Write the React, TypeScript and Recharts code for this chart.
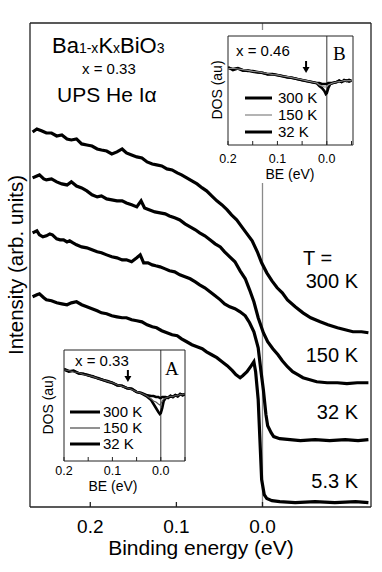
import React from 'react';
import { LineChart, Line, XAxis, YAxis, ReferenceLine, ReferenceDot } from 'recharts';

const FONT = '"Liberation Sans", Arial, Helvetica, sans-serif';
const SERIF = '"Liberation Serif", "Times New Roman", serif';

// ---------- main panel data (binding energy in eV, intensity in arb. units) ----------
const be300 = [0.267,0.262,0.256,0.251,0.245,0.239,0.233,0.227,0.222,0.216,0.210,0.204,0.198,0.192,0.187,0.181,0.175,0.169,0.163,0.158,0.152,0.146,0.140,0.134,0.128,0.123,0.117,0.111,0.105,0.099,0.094,0.088,0.082,0.076,0.070,0.065,0.059,0.053,0.047,0.041,0.036,0.030,0.024,0.018,0.012,0.006,0.001,-0.005,-0.011,-0.017,-0.023,-0.029,-0.038,-0.047,-0.056,-0.067,-0.076,-0.087,-0.096,-0.105,-0.115,-0.123];
const int300 = [3.263,3.289,3.272,3.254,3.254,3.228,3.237,3.202,3.193,3.202,3.158,3.149,3.140,3.114,3.105,3.096,3.070,3.088,3.114,3.079,3.061,3.044,3.035,3.000,2.982,2.974,2.965,2.939,2.930,2.904,2.886,2.860,2.833,2.807,2.772,2.746,2.702,2.658,2.623,2.579,2.535,2.491,2.430,2.368,2.307,2.211,2.114,2.026,1.956,1.895,1.851,1.789,1.728,1.675,1.632,1.596,1.570,1.544,1.526,1.509,1.509,1.500];

const be150 = [0.267,0.262,0.259,0.254,0.251,0.245,0.239,0.233,0.227,0.222,0.216,0.210,0.204,0.198,0.192,0.187,0.181,0.175,0.169,0.163,0.158,0.152,0.146,0.141,0.137,0.131,0.125,0.119,0.113,0.108,0.102,0.096,0.090,0.084,0.078,0.073,0.067,0.061,0.055,0.049,0.044,0.038,0.032,0.026,0.020,0.015,0.010,0.005,-0.001,-0.006,-0.012,-0.018,-0.023,-0.029,-0.035,-0.041,-0.047,-0.055,-0.063,-0.075,-0.087,-0.098,-0.110,-0.123];
const int150 = [2.860,2.877,2.886,2.851,2.842,2.851,2.825,2.807,2.798,2.825,2.789,2.772,2.746,2.711,2.693,2.702,2.675,2.667,2.658,2.658,2.640,2.623,2.605,2.658,2.596,2.579,2.561,2.553,2.544,2.526,2.509,2.491,2.456,2.430,2.404,2.377,2.351,2.316,2.281,2.254,2.211,2.167,2.123,2.044,1.974,1.877,1.772,1.632,1.500,1.421,1.360,1.307,1.254,1.202,1.158,1.132,1.105,1.088,1.070,1.061,1.061,1.053,1.061,1.061];

const be32 = [0.267,0.262,0.259,0.255,0.251,0.247,0.244,0.239,0.235,0.231,0.227,0.224,0.220,0.216,0.210,0.204,0.198,0.192,0.187,0.181,0.175,0.169,0.163,0.158,0.152,0.146,0.142,0.138,0.133,0.128,0.124,0.119,0.113,0.108,0.102,0.096,0.090,0.084,0.078,0.073,0.067,0.061,0.055,0.049,0.044,0.038,0.032,0.026,0.020,0.015,0.010,0.005,0.002,-0.001,-0.004,-0.006,-0.010,-0.013,-0.020,-0.032,-0.044,-0.061,-0.078,-0.096,-0.111,-0.123];
const int32 = [2.377,2.395,2.360,2.342,2.351,2.368,2.360,2.325,2.316,2.316,2.298,2.307,2.289,2.272,2.254,2.246,2.228,2.211,2.202,2.184,2.167,2.158,2.140,2.140,2.123,2.158,2.184,2.114,2.114,2.096,2.088,2.079,2.061,2.044,2.035,2.009,1.991,1.974,1.947,1.921,1.895,1.860,1.825,1.789,1.754,1.728,1.711,1.684,1.649,1.588,1.509,1.368,1.175,1.000,0.781,0.684,0.623,0.588,0.570,0.561,0.553,0.561,0.553,0.561,0.553,0.561];

const be53 = [0.267,0.262,0.259,0.254,0.251,0.245,0.239,0.233,0.227,0.222,0.216,0.210,0.204,0.198,0.192,0.187,0.181,0.175,0.169,0.163,0.158,0.152,0.146,0.140,0.134,0.128,0.123,0.117,0.111,0.105,0.099,0.094,0.088,0.082,0.076,0.070,0.065,0.059,0.053,0.047,0.041,0.035,0.031,0.026,0.023,0.018,0.013,0.010,0.008,0.005,0.003,0.001,-0.002,-0.005,-0.011,-0.020,-0.038,-0.061,-0.084,-0.108,-0.123];
const int53 = [1.816,1.833,1.842,1.807,1.789,1.781,1.763,1.754,1.746,1.763,1.772,1.746,1.728,1.711,1.693,1.675,1.667,1.649,1.640,1.632,1.632,1.614,1.605,1.596,1.570,1.553,1.544,1.518,1.500,1.482,1.474,1.447,1.421,1.395,1.377,1.360,1.333,1.307,1.281,1.246,1.211,1.167,1.132,1.105,1.123,1.158,1.211,1.246,1.158,0.912,0.561,0.211,0.079,0.044,0.026,0.018,0.009,0.018,0.009,0.018,0.009];

const mainTicksX = [0.2, 0.1, 0];
const mainTopTicksX = [0.1, 0];
const mainTicksY = [0, 1, 2, 3, 4];
const tempLabels = ['300 K', '150 K', '32 K', '5.3 K'];

// ---------- inset B (x = 0.46) ----------
const beB = [0.2,0.19,0.18,0.17,0.16,0.15,0.14,0.13,0.12,0.11,0.1,0.09,0.08,0.07,0.06,0.05,0.04,0.03,0.02,0.015,0.01,0.005,0.002,0,-0.003,-0.007,-0.012,-0.02,-0.025,-0.03,-0.035,-0.04,-0.045,-0.05];
const dosB300 = [2.057,2.029,2.057,2.0,1.971,1.971,1.943,1.914,1.886,1.886,1.857,1.829,1.8,1.771,1.743,1.714,1.686,1.657,1.629,1.629,1.6,1.6,1.6,1.6,1.629,1.629,1.629,1.657,1.686,1.657,1.714,1.686,1.714,1.686];
const dosB150 = [2.04,2.05,2.03,2.01,1.99,1.96,1.95,1.92,1.9,1.87,1.86,1.83,1.81,1.78,1.75,1.72,1.69,1.66,1.63,1.571,1.543,1.514,1.514,1.543,1.571,1.6,1.629,1.657,1.67,1.68,1.7,1.69,1.7,1.69];
const dosB32 = [2.08,2.0,2.04,1.98,1.99,1.95,1.93,1.92,1.87,1.88,1.85,1.82,1.79,1.78,1.74,1.71,1.68,1.65,1.62,1.543,1.486,1.4,1.314,1.343,1.486,1.6,1.629,1.657,1.7,1.66,1.69,1.7,1.67,1.7];
const arrowB = { x: 0.042, y: 1.914 };

// ---------- inset A (x = 0.33) ----------
const beA = [0.2,0.19,0.18,0.17,0.16,0.15,0.14,0.13,0.12,0.11,0.1,0.09,0.08,0.07,0.06,0.05,0.04,0.03,0.02,0.015,0.01,0.005,0.002,0,-0.003,-0.006,-0.01,-0.015,-0.02,-0.025,-0.03,-0.035,-0.04,-0.045,-0.05];
const dosA300 = [3.315,3.243,3.243,3.171,3.135,3.099,3.027,2.991,2.919,2.883,2.811,2.739,2.703,2.631,2.595,2.486,2.450,2.378,2.342,2.342,2.306,2.306,2.270,2.270,2.306,2.306,2.306,2.270,2.342,2.306,2.378,2.342,2.414,2.378,2.414];
const dosA150 = [3.28,3.26,3.21,3.19,3.12,3.08,3.04,2.97,2.93,2.87,2.82,2.75,2.69,2.64,2.58,2.50,2.44,2.36,2.234,2.162,2.126,2.054,2.018,2.054,2.162,2.234,2.270,2.30,2.33,2.32,2.36,2.35,2.40,2.39,2.42];
const dosA32 = [3.29,3.22,3.26,3.15,3.14,3.08,3.05,2.97,2.93,2.86,2.82,2.72,2.71,2.62,2.60,2.49,2.44,2.342,2.198,2.054,1.910,1.766,1.694,1.730,1.910,2.162,2.270,2.29,2.35,2.31,2.37,2.33,2.41,2.37,2.40];
const arrowA = { x: 0.068, y: 2.847 };

const insetTicksX = [0.2, 0.15, 0.1, 0.05, 0, -0.05];
const insetLabelTicks = [0.2, 0.1, 0];
const insetBTicksY = [1, 2];
const insetATicksY = [1, 2, 3];

const toPts = (xs: number[], ys: number[]) =>
  xs.slice(0, Math.min(xs.length, ys.length)).map((x, i) => ({ x, y: ys[i] }));

const fmtMain = (v: number) => v.toFixed(1);
const fmtInset = (v: number) =>
  insetLabelTicks.some((t) => Math.abs(t - v) < 1e-9) ? v.toFixed(1) : '';

const AXIS = '#222';

const ArrowShape = (p: any) => {
  const { cx, cy } = p;
  if (cx == null || cy == null) return <g />;
  return (
    <g>
      <line x1={cx} y1={cy - 12} x2={cx} y2={cy - 5} stroke="#000" strokeWidth={2} />
      <polygon points={`${cx - 3.5},${cy - 6} ${cx + 3.5},${cy - 6} ${cx},${cy}`} fill="#000" />
    </g>
  );
};

type InsetProps = {
  left: number; top: number; width: number; height: number;
  margin: { top: number; right: number; bottom: number; left: number };
  xDomain: [number, number]; yDomain: [number, number]; yTicks: number[];
  xAxisH: number; tickMargin: number;
  s300: { x: number; y: number }[]; s150: { x: number; y: number }[]; s32: { x: number; y: number }[];
  thinColor: string; arrow: { x: number; y: number };
};

function Inset(props: InsetProps) {
  const { left, top, width, height, margin, xDomain, yDomain, yTicks, xAxisH, tickMargin, s300, s150, s32, thinColor, arrow } = props;
  return (
    <div style={{ position: 'absolute', left, top, width, height, background: '#fff' }}>
      <LineChart width={width} height={height} margin={margin}>
        <XAxis xAxisId="b" type="number" dataKey="x" domain={xDomain} reversed allowDataOverflow
          ticks={insetTicksX} interval={0} tickFormatter={fmtInset} tickSize={-4} tickMargin={tickMargin}
          height={xAxisH} stroke={AXIS} tick={{ fontSize: 12.5, fill: '#000', fontFamily: FONT }} />
        <XAxis xAxisId="t" orientation="top" type="number" dataKey="x" domain={xDomain} reversed allowDataOverflow
          ticks={insetTicksX} interval={0} tick={false} tickSize={-4} height={1} stroke={AXIS} />
        <YAxis yAxisId="l" type="number" domain={yDomain} allowDataOverflow ticks={yTicks} interval={0}
          tick={false} tickSize={-4} width={28} stroke={AXIS} />
        <YAxis yAxisId="r" orientation="right" type="number" domain={yDomain} allowDataOverflow ticks={yTicks} interval={0}
          tick={false} tickSize={-4} width={1} stroke={AXIS} />
        <ReferenceLine xAxisId="b" yAxisId="l" x={0} stroke="#333" strokeWidth={1} />
        <Line data={s300} xAxisId="b" yAxisId="l" dataKey="y" type="linear" stroke="#000" strokeWidth={2.6} dot={false} isAnimationActive={false} />
        <Line data={s32} xAxisId="b" yAxisId="l" dataKey="y" type="linear" stroke="#000" strokeWidth={2.6} dot={false} isAnimationActive={false} />
        <Line data={s150} xAxisId="b" yAxisId="l" dataKey="y" type="linear" stroke={thinColor} strokeWidth={1.1} dot={false} isAnimationActive={false} />
        <ReferenceDot xAxisId="b" yAxisId="l" x={arrow.x} y={arrow.y} r={0} shape={ArrowShape} />
      </LineChart>
    </div>
  );
}

export default function App() {
  const series = [
    toPts(be300, int300),
    toPts(be150, int150),
    toPts(be32, int32),
    toPts(be53, int53),
  ];
  const mainDomainX: [number, number] = [-0.126, 0.27];
  const mainDomainY: [number, number] = [-0.03, 4.22];
  const txt = { fontFamily: FONT, fill: '#000' } as const;
  return (
    <div>
      <div style={{ position: 'absolute', left: 0, top: 0, width: 382, height: 572, background: '#fff' }}>
        <LineChart width={382} height={572} margin={{ top: 22, right: 10, bottom: 0, left: 0 }}>
          <XAxis xAxisId="b" type="number" dataKey="x" domain={mainDomainX} reversed allowDataOverflow
            ticks={mainTicksX} interval={0} tickFormatter={fmtMain} tickSize={-5} tickMargin={18} height={65}
            stroke={AXIS} strokeWidth={1.3} tick={{ fontSize: 19, fill: '#000', fontFamily: FONT }} />
          <XAxis xAxisId="t" orientation="top" type="number" dataKey="x" domain={mainDomainX} reversed allowDataOverflow
            ticks={mainTopTicksX} interval={0} tick={false} tickSize={-5} height={1} stroke={AXIS} strokeWidth={1.3} />
          <YAxis yAxisId="l" type="number" domain={mainDomainY} allowDataOverflow ticks={mainTicksY} interval={0}
            tick={false} tickSize={-5} width={30} stroke={AXIS} strokeWidth={1.3} />
          <YAxis yAxisId="r" orientation="right" type="number" domain={mainDomainY} allowDataOverflow ticks={mainTicksY} interval={0}
            tick={false} tickSize={-5} width={1} stroke={AXIS} strokeWidth={1.3} />
          <ReferenceLine xAxisId="b" yAxisId="l" x={0} stroke="#8a8a8a" strokeWidth={1.3} />
          {series.map((pts, i) => (
            <Line key={tempLabels[i]} data={pts} xAxisId="b" yAxisId="l" dataKey="y" type="linear"
              stroke="#000" strokeWidth={3.2} dot={false} isAnimationActive={false} />
          ))}
        </LineChart>
      </div>

      <Inset left={200} top={30} width={160} height={153}
        margin={{ top: 5, right: 6, bottom: 0, left: 0 }}
        xDomain={[-0.053, 0.2]} yDomain={[-0.14, 2.97]} yTicks={insetBTicksY}
        xAxisH={38} tickMargin={13}
        s300={toPts(beB, dosB300)} s150={toPts(beB, dosB150)} s32={toPts(beB, dosB32)}
        thinColor="#8c8c8c" arrow={arrowB} />

      <Inset left={36} top={348} width={151} height={148}
        margin={{ top: 1, right: 1, bottom: 0, left: 0 }}
        xDomain={[-0.05, 0.2]} yDomain={[0, 4]} yTicks={insetATicksY}
        xAxisH={35} tickMargin={9}
        s300={toPts(beA, dosA300)} s150={toPts(beA, dosA150)} s32={toPts(beA, dosA32)}
        thinColor="#555" arrow={arrowA} />

      <svg width={382} height={572} style={{ position: 'absolute', left: 0, top: 0, pointerEvents: 'none' }}>
        {/* main annotations */}
        <text x={52} y={53} fontSize={22} {...txt}>
          Ba<tspan fontSize={14}>1-x</tspan>K<tspan fontSize={14}>x</tspan>BiO<tspan fontSize={14}>3</tspan>
        </text>
        <text x={82} y={73.5} fontSize={15} {...txt}>x = 0.33</text>
        <text x={57} y={102} fontSize={21} {...txt}>UPS He Iα</text>
        <text x={23} y={265} fontSize={20.5} textAnchor="middle" transform="rotate(-90 23 265)" {...txt}>Intensity (arb. units)</text>
        <text x={201} y={555} fontSize={21} textAnchor="middle" {...txt}>Binding energy (eV)</text>
        <text x={303} y={265} fontSize={20} {...txt}>T =</text>
        <text x={358} y={288} fontSize={20} textAnchor="end" {...txt}>{tempLabels[0]}</text>
        <text x={358} y={362} fontSize={20} textAnchor="end" {...txt}>{tempLabels[1]}</text>
        <text x={358} y={419} fontSize={20} textAnchor="end" {...txt}>{tempLabels[2]}</text>
        <text x={358} y={488} fontSize={20} textAnchor="end" {...txt}>{tempLabels[3]}</text>

        {/* inset B annotations */}
        <text x={236} y={56} fontSize={15} {...txt}>x = 0.46</text>
        <text x={333} y={60} fontSize={19} fontFamily={SERIF} fill="#000">B</text>
        <text x={222} y={90} fontSize={14} textAnchor="middle" transform="rotate(-90 222 90)" {...txt}>DOS (au)</text>
        <text x={290} y={179} fontSize={14} textAnchor="middle" {...txt}>BE (eV)</text>
        <line x1={245} x2={272} y1={98} y2={98} stroke="#000" strokeWidth={3} />
        <line x1={245} x2={272} y1={115} y2={115} stroke="#8c8c8c" strokeWidth={1.3} />
        <line x1={245} x2={272} y1={132} y2={132} stroke="#000" strokeWidth={3} />
        <text x={278} y={103} fontSize={15} {...txt}>300 K</text>
        <text x={278} y={120} fontSize={15} {...txt}>150 K</text>
        <text x={278} y={137} fontSize={15} {...txt}>32 K</text>

        {/* inset A annotations */}
        <text x={75} y={366} fontSize={15} {...txt}>x = 0.33</text>
        <text x={165} y={375} fontSize={19} fontFamily={SERIF} fill="#000">A</text>
        <text x={53} y={405} fontSize={14} textAnchor="middle" transform="rotate(-90 53 405)" {...txt}>DOS (au)</text>
        <text x={113} y={491} fontSize={14} textAnchor="middle" {...txt}>BE (eV)</text>
        <line x1={70} x2={100} y1={412} y2={412} stroke="#000" strokeWidth={3} />
        <line x1={70} x2={100} y1={428} y2={428} stroke="#555" strokeWidth={1.3} />
        <line x1={70} x2={100} y1={444} y2={444} stroke="#000" strokeWidth={3} />
        <text x={103} y={417} fontSize={15} {...txt}>300 K</text>
        <text x={103} y={433} fontSize={15} {...txt}>150 K</text>
        <text x={103} y={449} fontSize={15} {...txt}>32 K</text>
      </svg>
    </div>
  );
}
